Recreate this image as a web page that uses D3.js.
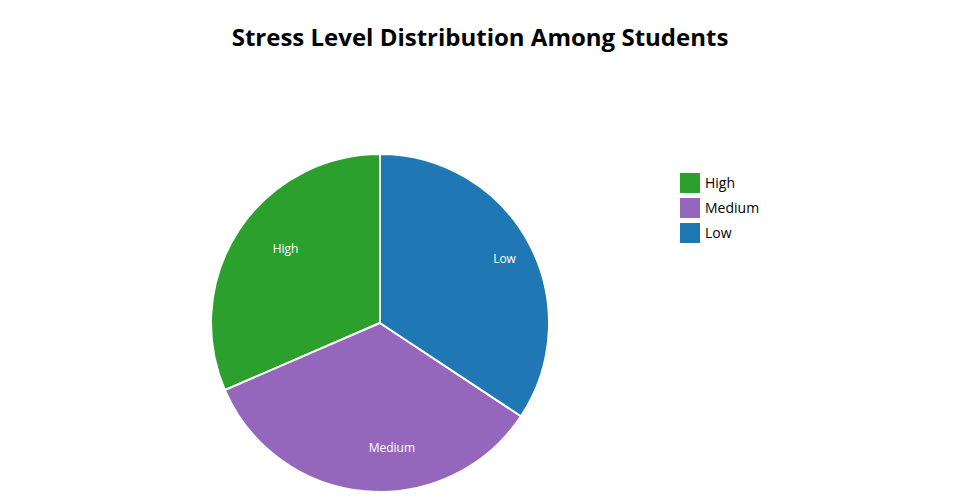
<!DOCTYPE html>
<html>
<head>
<meta charset="utf-8">
<script src="https://cdn.jsdelivr.net/npm/d3@7"></script>
<style>
  html, body { margin: 0; padding: 0; background: #fff; }
  svg { display: block; font-family: "Open Sans", sans-serif; }
</style>
</head>
<body>
<svg id="chart" width="960" height="500"></svg>
<script>
const categories = ["High", "Medium", "Low"];
const values = [31.5, 34.2, 34.3];
const colors = ["#2ca02c", "#9467bd", "#1f77b4"];
const titleText = "Stress Level Distribution Among Students";

const svg = d3.select("#chart");
const cx = 380, cy = 323, R = 169;

svg.append("text")
  .attr("x", 480).attr("y", 46)
  .attr("text-anchor", "middle")
  .style("font-size", "24px").style("font-weight", "700").style("fill", "#000")
  .text(titleText);

const data = categories.map((c, i) => ({ label: c, value: values[i], color: colors[i] }));

// counterclockwise from 12 o'clock, in data order
const pie = d3.pie().sort(null).value(d => d.value)
  .startAngle(0).endAngle(-2 * Math.PI);
const arcs = pie(data);
const arc = d3.arc().innerRadius(0).outerRadius(R);

const g = svg.append("g").attr("transform", `translate(${cx},${cy})`);
g.selectAll("path.slice").data(arcs).enter().append("path")
  .attr("class", "slice")
  .attr("d", arc)
  .attr("fill", d => d.data.color)
  .attr("stroke", "#fff").attr("stroke-width", 2);

const labelArc = d3.arc().innerRadius(R * 0.76).outerRadius(R * 0.76);
g.selectAll("text.lbl").data(arcs).enter().append("text")
  .attr("class", "lbl")
  .attr("transform", d => `translate(${labelArc.centroid(d)})`)
  .attr("text-anchor", "start").attr("dy", "0.05em")
  .style("font-size", "12px").style("fill", "#fff")
  .text(d => d.data.label);

const legend = svg.append("g").attr("transform", "translate(680,173)");
const items = legend.selectAll("g").data(data).enter().append("g")
  .attr("transform", (d, i) => `translate(0,${i * 25})`);
items.append("rect").attr("width", 20).attr("height", 20).attr("fill", d => d.color);
items.append("text").attr("x", 25).attr("y", 10).attr("dy", "0.35em")
  .style("font-size", "14px").style("fill", "#000")
  .text(d => d.label);
</script>
</body>
</html>
